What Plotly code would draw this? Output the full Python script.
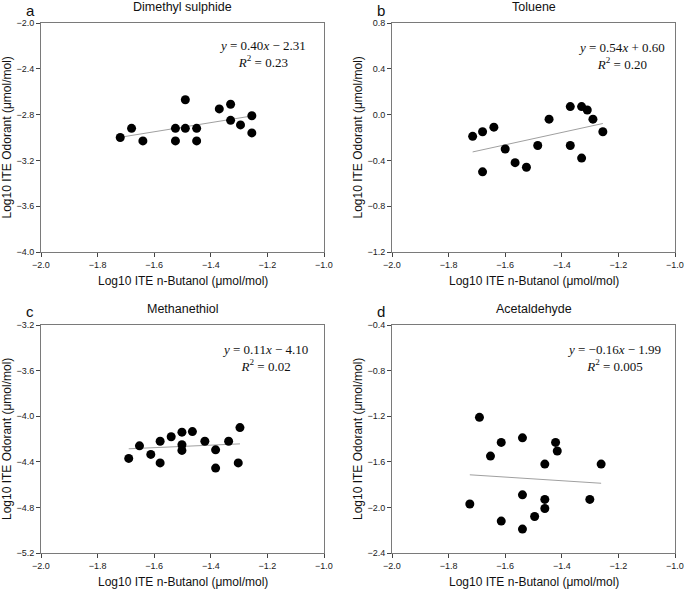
import numpy as np
import plotly.graph_objects as go

# panel data (log10 ITE values)
titles = ["Dimethyl sulphide", "Toluene", "Methanethiol", "Acetaldehyde"]
letters = ["a", "b", "c", "d"]

dms_x = [-1.72, -1.68, -1.64, -1.525, -1.525, -1.49, -1.49, -1.45, -1.45, -1.37, -1.33, -1.33, -1.295, -1.255, -1.255]
dms_y = [-3.00, -2.92, -3.03, -2.92, -3.03, -2.67, -2.92, -2.92, -3.03, -2.75, -2.71, -2.85, -2.89, -2.81, -2.96]

tol_x = [-1.715, -1.68, -1.68, -1.64, -1.60, -1.565, -1.525, -1.485, -1.445, -1.37, -1.37, -1.33, -1.33, -1.31, -1.29, -1.255]
tol_y = [-0.19, -0.15, -0.50, -0.11, -0.30, -0.42, -0.46, -0.27, -0.04, 0.07, -0.27, 0.07, -0.38, 0.04, -0.04, -0.15]

meth_x = [-1.69, -1.652, -1.612, -1.579, -1.579, -1.54, -1.502, -1.502, -1.502, -1.465, -1.421, -1.383, -1.383, -1.337, -1.303, -1.297]
meth_y = [-4.37, -4.26, -4.335, -4.22, -4.41, -4.18, -4.14, -4.25, -4.30, -4.135, -4.22, -4.295, -4.455, -4.22, -4.41, -4.10]

acet_x = [-1.725, -1.691, -1.652, -1.614, -1.614, -1.539, -1.539, -1.539, -1.496, -1.46, -1.46, -1.46, -1.422, -1.416, -1.301, -1.261]
acet_y = [-1.97, -1.21, -1.55, -1.43, -2.12, -1.39, -1.89, -2.19, -2.08, -1.62, -1.93, -2.01, -1.43, -1.505, -1.93, -1.62]

xs = [dms_x, tol_x, meth_x, acet_x]
ys = [dms_y, tol_y, meth_y, acet_y]

# fitted lines as printed on the panels
slopes = [0.40, 0.54, 0.11, -0.16]
intercepts = [-2.31, 0.60, -4.10, -1.99]
eq_text = ["<i>y</i> = 0.40<i>x</i> − 2.31<br><i>R</i><sup>2</sup> = 0.23",
           "<i>y</i> = 0.54<i>x</i> + 0.60<br><i>R</i><sup>2</sup> = 0.20",
           "<i>y</i> = 0.11<i>x</i> − 4.10<br><i>R</i><sup>2</sup> = 0.02",
           "<i>y</i> = −0.16<i>x</i> − 1.99<br><i>R</i><sup>2</sup> = 0.005"]

y_ranges = [[-4.0, -2.0], [-1.2, 0.8], [-5.2, -3.2], [-2.4, -0.4]]
x_range = [-2.0, -1.0]

xlabel = "Log10 ITE n-Butanol (μmol/mol)"
ylabel = "Log10 ITE Odorant (μmol/mol)"

W, H = 685, 591
x_doms = [[41 / W, 324 / W], [392 / W, 675 / W]]
y_doms = [[1 - 252 / H, 1 - 23 / H], [1 - 553 / H, 1 - 325 / H]]
eq_pos = [(0.945, 0.865), (0.970, 0.857), (0.950, 0.857), (0.956, 0.857)]

sans = "Liberation Sans, Arial, sans-serif"
serif = "Liberation Serif, Times New Roman, serif"

fig = go.Figure()
annotations = []

for i in range(4):
    n = "" if i == 0 else str(i + 1)
    row, col = divmod(i, 2)
    xa, ya = "x" + n, "y" + n

    fx = np.array([min(xs[i]), max(xs[i])])
    fig.add_trace(go.Scatter(x=fx, y=slopes[i] * fx + intercepts[i], mode="lines",
                             line=dict(color="#a0a0a0", width=1), xaxis=xa, yaxis=ya,
                             showlegend=False, hoverinfo="skip"))
    fig.add_trace(go.Scatter(x=xs[i], y=ys[i], mode="markers",
                             marker=dict(color="black", size=9), xaxis=xa, yaxis=ya,
                             showlegend=False))

    axis_common = dict(showgrid=False, zeroline=False, showline=True, mirror=True,
                       linecolor="#7a7a7a", linewidth=1, ticks="outside", ticklen=4,
                       tickcolor="#444", tickformat=".1f", automargin=False,
                       tickfont=dict(family=sans, size=9, color="#222"))
    fig.update_layout(**{
        "xaxis" + n: dict(axis_common, domain=x_doms[col], range=x_range, dtick=0.2,
                          tick0=-2.0, anchor=ya),
        "yaxis" + n: dict(axis_common, domain=y_doms[row], range=y_ranges[i], dtick=0.4,
                          tick0=y_ranges[i][0], anchor=xa),
    })

    xmid = (x_doms[col][0] + x_doms[col][1]) / 2
    top = y_doms[row][1]
    bot = y_doms[row][0]
    centred = dict(xref="paper", yref="paper", xanchor="center", yanchor="middle",
                   showarrow=False)
    annotations += [
        dict(centred, text=titles[i], x=xmid, y=top + 16 / H,
             font=dict(family=sans, size=12.5, color="#111")),
        dict(centred, text=letters[i], x=x_doms[col][0] - 11 / W, y=top + 13 / H,
             font=dict(family=sans, size=15, color="#111")),
        dict(centred, text=xlabel, x=xmid, y=bot - 29 / H,
             font=dict(family=sans, size=12, color="#111")),
        dict(centred, text=ylabel, x=x_doms[col][0] - 34 / W, y=(top + bot) / 2,
             textangle=-90, font=dict(family=sans, size=12, color="#111")),
        dict(text=eq_text[i], xref=xa + " domain", yref=ya + " domain",
             x=eq_pos[i][0], y=eq_pos[i][1], xanchor="right", yanchor="middle",
             align="center", showarrow=False,
             font=dict(family=serif, size=13, color="#111")),
    ]

fig.update_layout(width=W, height=H, margin=dict(l=0, r=0, t=0, b=0),
                  plot_bgcolor="white", paper_bgcolor="white",
                  annotations=annotations)

# drop the page's default body margin so the figure sits at the window corner
fig.write_html("out.html", config={"displayModeBar": False},
               post_script="document.body.style.margin = '0';")
